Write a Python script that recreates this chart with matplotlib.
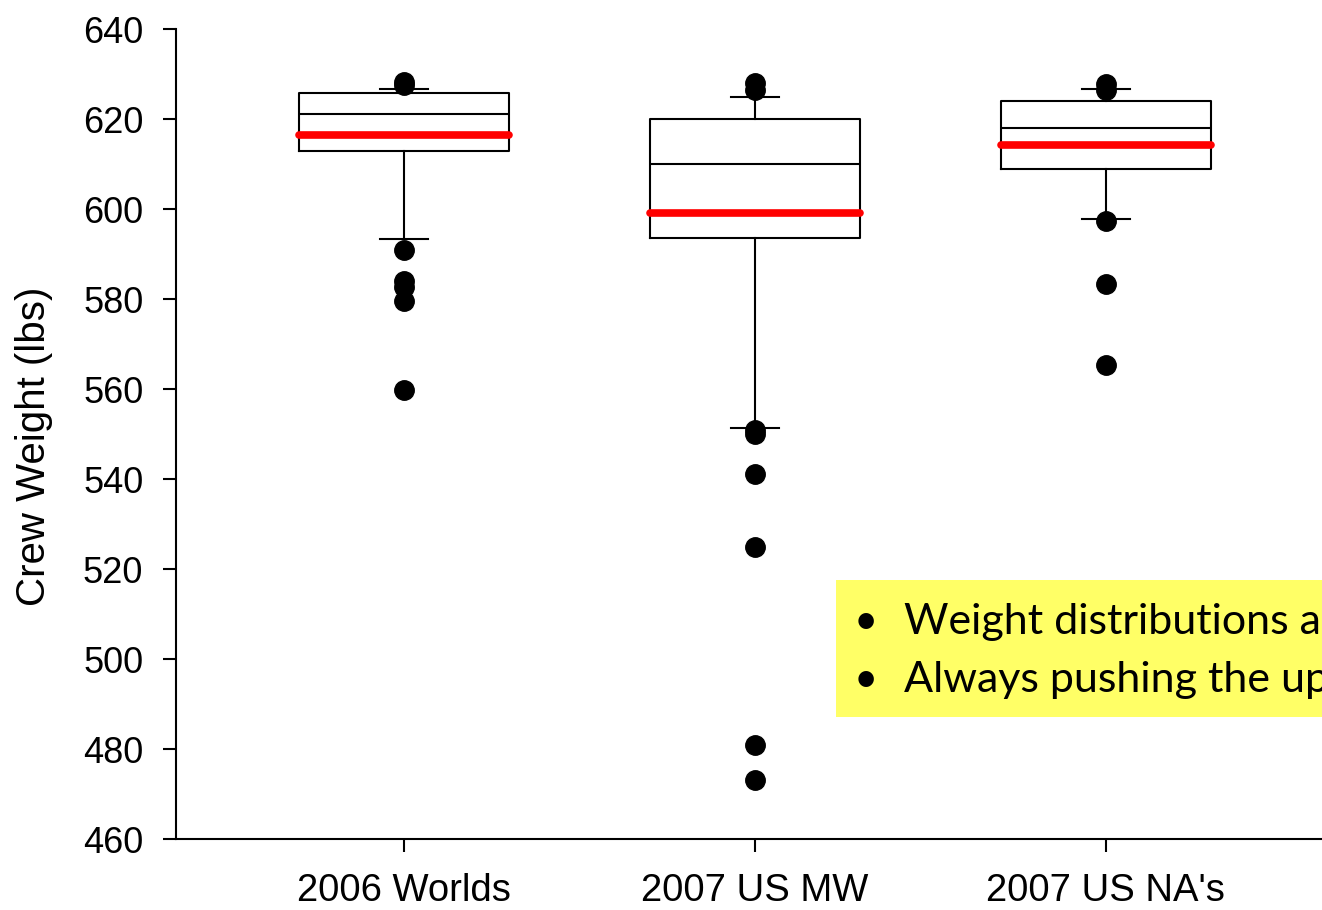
import matplotlib.pyplot as plt
from matplotlib.patches import Rectangle

# values (lbs)
labels = ["2006 Worlds", "2007 US MW", "2007 US NA's"]
q1 = [612.9, 593.6, 608.9]
medians = [621.1, 610.0, 618.0]
q3 = [625.8, 620.0, 624.0]
means = [616.4, 599.1, 614.2]
whisk_lo = [593.3, 551.3, 597.8]
whisk_hi = [626.7, 624.9, 626.7]
outliers = [
    [628.2, 627.6, 590.9, 584.0, 582.7, 579.6, 559.8],
    [628.0, 626.4, 550.9, 550.0, 541.1, 524.9, 480.9, 473.1],
    [627.8, 626.4, 597.3, 583.3, 565.3],
]
notes = ["Weight distributions a", "Always pushing the up"]

stats = []
for i, lab in enumerate(labels):
    stats.append({
        "label": lab,
        "q1": q1[i], "med": medians[i], "q3": q3[i], "mean": means[i],
        "whislo": whisk_lo[i], "whishi": whisk_hi[i], "fliers": outliers[i],
    })

fig = plt.figure(figsize=(13.22, 9.10), dpi=100)
ax = fig.add_axes([176 / 1322, 71 / 910, 1158 / 1322, 810 / 910])

ax.bxp(
    stats,
    positions=[1, 2, 3],
    widths=0.60,
    capwidths=0.137,
    showmeans=True,
    meanline=True,
    boxprops=dict(color="black", linewidth=1.5),
    medianprops=dict(color="black", linewidth=1.5),
    whiskerprops=dict(color="black", linewidth=1.5),
    capprops=dict(color="black", linewidth=1.5),
    meanprops=dict(color="#ff0000", linewidth=5.5, linestyle="-", solid_capstyle="round"),
    flierprops=dict(marker="o", markerfacecolor="black", markeredgecolor="black", markersize=14),
)

ax.set_xlim(0.35, 3.65)
ax.set_ylim(460, 640)
ax.set_yticks(range(460, 641, 20))
ax.spines["top"].set_visible(False)
ax.spines["right"].set_visible(False)
ax.spines["left"].set_linewidth(1.5)
ax.spines["bottom"].set_linewidth(1.5)
ax.tick_params(direction="out", length=9.5, width=1.5, labelsize=26)
ax.tick_params(axis="y", pad=14)
ax.tick_params(axis="x", pad=15, labelsize=27.5)
for t in ax.get_xticklabels() + ax.get_yticklabels():
    t.set_fontfamily("Liberation Sans")
ax.set_ylabel("Crew Weight (lbs)", fontsize=29, family="Liberation Sans")
ax.yaxis.set_label_coords(-123 / 1158, 0.485)

# yellow callout, cut off at the right edge like the slide
fig.patches.append(Rectangle((836 / 1322, 193 / 910), 0.4, 137 / 910,
                             transform=fig.transFigure, facecolor="#ffff66", edgecolor="none", zorder=5))
for j, line in enumerate(notes):
    yy = (910 - 622 - 58 * j) / 910
    fig.text(866 / 1322, yy, "\u2022", fontsize=30, family="Lato", va="center", ha="center", zorder=6)
    fig.text(904 / 1322, yy, line, fontsize=31, family="Lato", va="center", ha="left", zorder=6)

fig.savefig("out.png", dpi=100)
